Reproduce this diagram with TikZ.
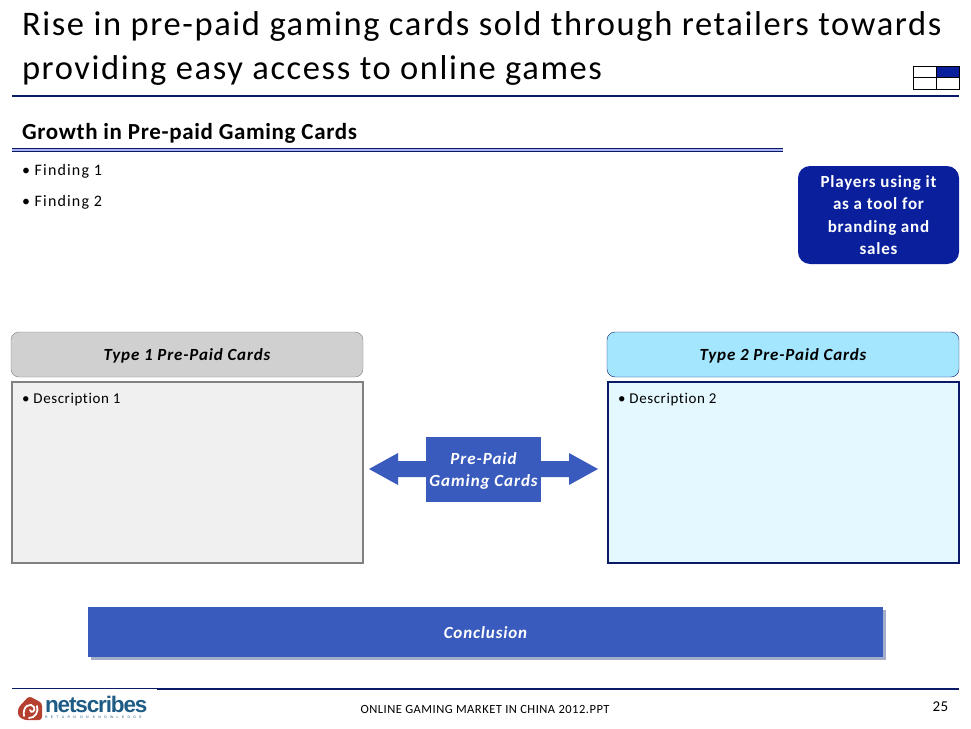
\documentclass[tikz,border=0pt]{standalone}
\usepackage{fontspec}
\setmainfont[Ligatures=NoCommon]{Carlito}
\newfontfamily\logofont{Liberation Sans}
\definecolor{navy}{HTML}{0A1A66}
\definecolor{royal}{HTML}{0A1F9C}
\definecolor{midblue}{HTML}{3A5BBE}
\definecolor{grayhead}{HTML}{D0D0D0}
\definecolor{graybody}{HTML}{F0F0F0}
\definecolor{grayline}{HTML}{808080}
\definecolor{cyanhead}{HTML}{A5E6FF}
\definecolor{cyanbody}{HTML}{E4F9FF}
\definecolor{logored}{HTML}{B5402F}
\definecolor{logoblue}{HTML}{1F5C85}
\definecolor{rulefill}{HTML}{A9B4F0}
\definecolor{shadowc}{HTML}{A3AECB}
\tikzset{
  x=1pt,y=-1pt,
  txt/.style={inner sep=0pt,outer sep=0pt,text=black},
  titletxt/.style={txt,anchor=base west,font=\fontsize{34.5}{34.5}\selectfont\addfontfeature{LetterSpace=4.7}},
  small/.style={txt,anchor=base west,font=\fontsize{16}{16}\selectfont\addfontfeature{LetterSpace=7.2}},
  desc/.style={txt,anchor=base west,font=\fontsize{15}{15}\selectfont\addfontfeature{LetterSpace=3.9}},
  headbox/.style={rounded corners=8pt,minimum width=352pt,minimum height=45pt,inner sep=0pt,text depth=0pt,
    font=\fontsize{17}{17}\selectfont\bfseries\itshape\addfontfeature{LetterSpace=5}},
  bodybox/.style={line width=2pt,minimum width=351pt,minimum height=181pt,inner sep=0pt},
  whitetxt/.style={text=white,font=\fontsize{17}{22.5}\selectfont\bfseries\addfontfeature{LetterSpace=4.8},align=center}
}
\begin{document}
\begin{tikzpicture}
\useasboundingbox (0,0) rectangle (971,728);
% title
\node[titletxt] (t1) at (22,35) {Rise in pre-paid gaming cards sold through retailers towards};
\node[titletxt] (t2) at (22,79) {providing easy access to online games};
\draw[navy,line width=2pt] (12,96) -- (959,96);
% position icon
\fill[royal] (936,66) rectangle (959.5,77.5);
\draw[black,line width=1pt] (913,66) rectangle (959.5,89);
\draw[black,line width=1pt] (936,66) -- (936,89) (913,77.5) -- (959.5,77.5);
% section heading
\node[txt,anchor=base west,font=\fontsize{23}{23}\selectfont\bfseries\addfontfeature{LetterSpace=2.8}] (sec) at (22,139) {Growth in Pre-paid Gaming Cards};
\fill[rulefill] (12,148) rectangle (783,151.5);
\draw[navy,line width=0.8pt] (12,148) -- (783,148) (12,151.5) -- (783,151.5);
% findings
\node[small] (f1) at (22,175.5) {• Finding 1};
\node[small] (f2) at (22,206.5) {• Finding 2};
% callout
\node[fill=royal,rounded corners=12pt,minimum width=161pt,minimum height=98pt,inner sep=0pt,whitetxt] (call) at (878.5,215) {Players using it\\as a tool for\\branding and\\sales};
% type 1
\node[headbox,draw=grayline,fill=grayhead] (h1) at (187,354.5) {Type 1 Pre-Paid Cards};
\node[bodybox,draw=grayline,fill=graybody] (b1) at (187.5,472.5) {};
\node[desc] (d1) at (22,403) {• Description 1};
% type 2
\node[headbox,draw=navy,fill=cyanhead] (h2) at (783,354.5) {Type 2 Pre-Paid Cards};
\node[bodybox,draw=navy,fill=cyanbody] (b2) at (783.5,472.5) {};
\node[desc] (d2) at (618,403) {• Description 2};
% centre arrow
\fill[midblue] (369,469) -- (398,453) -- (398,461) -- (569,461) -- (569,453) -- (598,469) -- (569,485) -- (569,477) -- (398,477) -- (398,485) -- cycle;
\node[fill=midblue,minimum width=115pt,minimum height=65pt,inner sep=0pt,text=white,align=center,
  font=\fontsize{17}{22}\selectfont\bfseries\itshape\addfontfeature{LetterSpace=5.5}] (pp) at (483.5,469.5) {\rule{0pt}{14pt}Pre-Paid\\Gaming Cards};
% conclusion
\fill[shadowc] (91,610) rectangle (886,660);
\node[fill=midblue,minimum width=795pt,minimum height=50pt,inner sep=0pt,text=white,text height=13pt,
  font=\fontsize{17}{17}\selectfont\bfseries\itshape\addfontfeature{LetterSpace=5}] (con) at (485.5,632) {Conclusion};
% footer
\draw[navy,line width=1pt] (12,688) -- (157,688);
\draw[navy,line width=2pt] (157,688.5) -- (959,688.5);
\node[txt,font=\fontsize{12.5}{12.5}\selectfont\addfontfeature{LetterSpace=4}] (foot) at (485,709) {ONLINE GAMING MARKET IN CHINA 2012.PPT};
\node[txt,font=\fontsize{15}{15}\selectfont\addfontfeature{LetterSpace=3}] (pg) at (940.5,707) {25};
% logo
\fill[logored,rounded corners=3pt] (18,708) -- (29,696) -- (42,703) -- (42,720) -- (24,720) -- (18,716) -- cycle;
\draw[white,line width=1.8pt,line cap=round] (24,716) .. controls (22,706) and (31,702) .. (34,707) .. controls (36,711) and (31,714) .. (30,710) (29,718) .. controls (35,718) and (39,712) .. (37,706);
\node[txt,anchor=base west,text=logoblue,font=\logofont\fontsize{22.5}{22.5}\selectfont\bfseries\addfontfeature{LetterSpace=-5}] (logo) at (45,712) {netscribes};
\node[txt,anchor=base west,text=logoblue,font=\logofont\fontsize{3.5}{4}\selectfont\addfontfeature{LetterSpace=93}] (tag) at (45,718.5) {RETURN ON KNOWLEDGE};
\end{tikzpicture}
\end{document}
